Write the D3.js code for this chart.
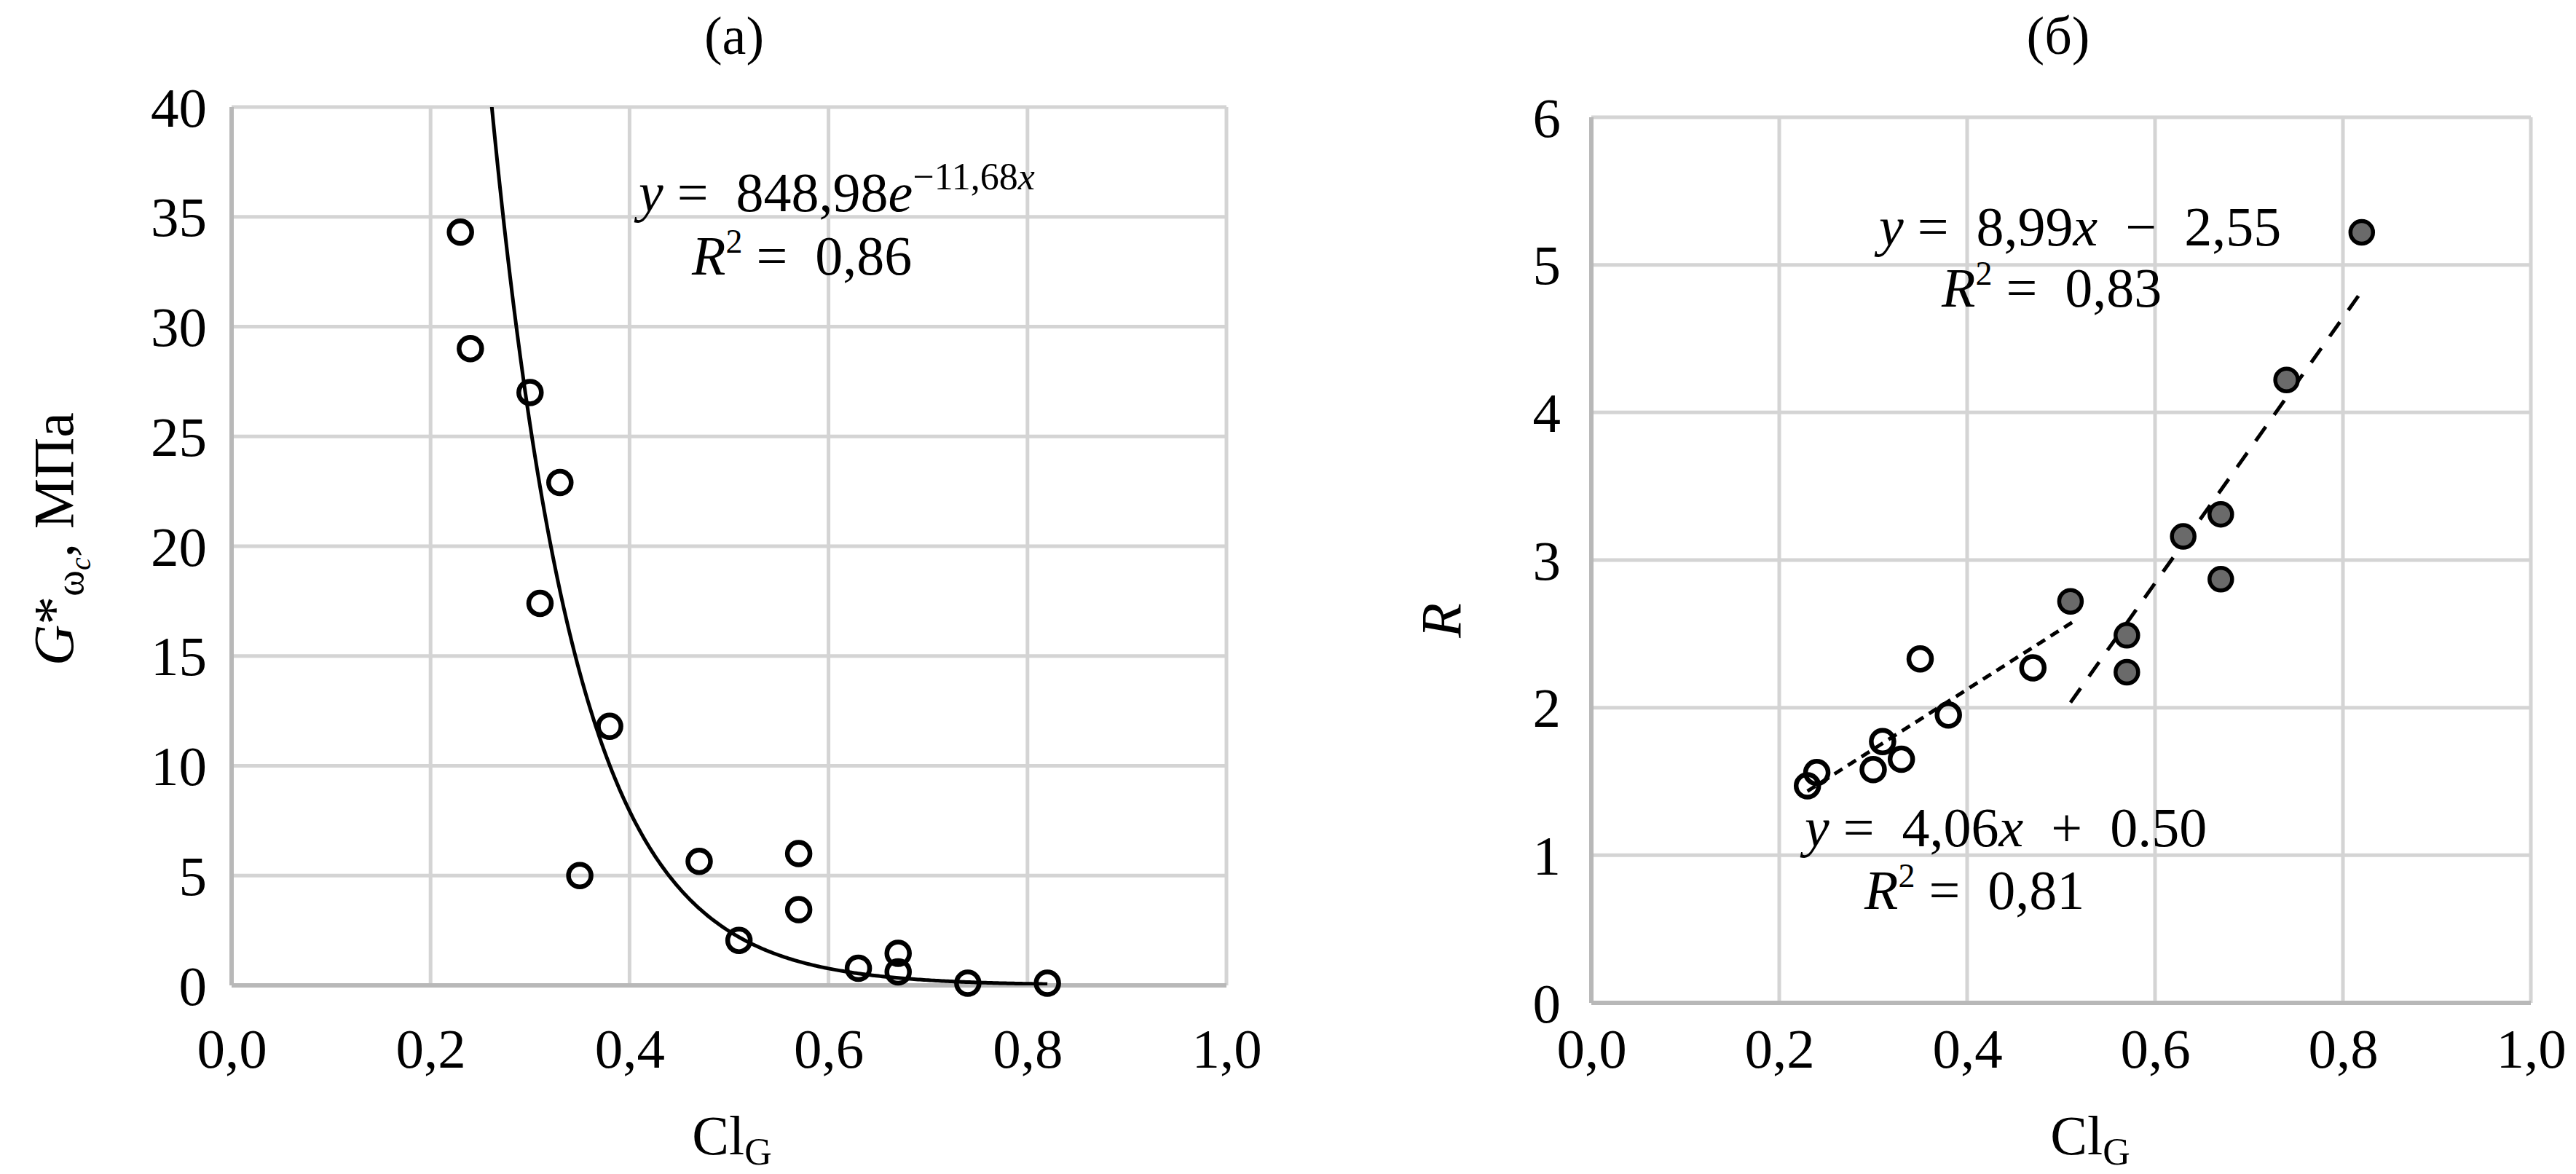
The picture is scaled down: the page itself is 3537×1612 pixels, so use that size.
<!DOCTYPE html>
<html>
<head>
<meta charset="utf-8">
<script src="https://cdn.jsdelivr.net/npm/d3@7"></script>
<style>
  html, body { margin: 0; padding: 0; background: #fff; }
  svg { display: block; }
  text { font-family: "Liberation Serif", "Times New Roman", serif; fill: #000; }
</style>
</head>
<body>
<svg id="chart" width="3537" height="1612"></svg>
<script>
// ---------------- DATA ----------------
const xTickValues = [0, 0.2, 0.4, 0.6, 0.8, 1.0];
const yTicksA = [0, 5, 10, 15, 20, 25, 30, 35, 40];
const yTicksB = [0, 1, 2, 3, 4, 5, 6];

// panel (a): Cl_G vs G*
const clA = [0.23, 0.24, 0.30, 0.31, 0.33, 0.35, 0.38, 0.47, 0.51, 0.57, 0.57, 0.63, 0.67, 0.67, 0.74, 0.82];
const gA  = [34.3, 29.0, 27.0, 17.4, 22.9, 5.0, 11.8, 5.65, 2.05, 6.0, 3.45, 0.78, 1.46, 0.61, 0.1, 0.1];

// panel (b): Cl_G vs R, open and filled series
const clOpen = [0.23, 0.24, 0.30, 0.31, 0.33, 0.35, 0.38, 0.47];
const rOpen  = [1.47, 1.56, 1.58, 1.77, 1.65, 2.33, 1.95, 2.27];
const clFill = [0.51, 0.57, 0.57, 0.63, 0.67, 0.67, 0.74, 0.82];
const rFill  = [2.72, 2.49, 2.24, 3.16, 3.31, 2.87, 4.22, 5.22];

// trendlines (as printed on the chart)
const expFit  = { a: 848.98, b: -11.68, from: 0.23, to: 0.82 };
const linOpen = { k: 4.06, c: 0.50, from: 0.23, to: 0.515 };
const linFill = { k: 8.99, c: -2.55, from: 0.51, to: 0.82 };

// ---------------- DRAW ----------------
const svg = d3.select("#chart");
const fmt = v => d3.format(".1f")(v).replace(".", ",");
const GRID = "#d4d4d4";

function panel(cfg) {
  const g = svg.append("g");
  const x = d3.scaleLinear().domain([0, 1]).range([cfg.left, cfg.right]);
  const y = d3.scaleLinear().domain(cfg.yDomain).range([cfg.bottom, cfg.top]);

  // grid
  g.append("g").selectAll("line.v").data(xTickValues).join("line")
    .attr("x1", d => x(d)).attr("x2", d => x(d))
    .attr("y1", cfg.top).attr("y2", cfg.bottom)
    .attr("stroke", GRID).attr("stroke-width", 5);
  g.append("g").selectAll("line.h").data(cfg.yTicks).join("line")
    .attr("x1", cfg.left).attr("x2", cfg.right)
    .attr("y1", d => y(d)).attr("y2", d => y(d))
    .attr("stroke", GRID).attr("stroke-width", 5);
  // axes lines
  g.append("line").attr("x1", cfg.left).attr("x2", cfg.left).attr("y1", cfg.top).attr("y2", cfg.bottom)
    .attr("stroke", "#b8b8b8").attr("stroke-width", 6);
  g.append("line").attr("x1", cfg.left).attr("x2", cfg.right).attr("y1", cfg.bottom).attr("y2", cfg.bottom)
    .attr("stroke", "#b8b8b8").attr("stroke-width", 6);

  // tick labels
  const xAxis = d3.axisBottom(x).tickValues(xTickValues).tickFormat(fmt).tickSize(0).tickPadding(0);
  const xa = g.append("g").attr("transform", `translate(0,${cfg.xLabelY})`).call(xAxis);
  xa.select(".domain").remove();
  xa.selectAll("text").attr("font-size", 77).attr("dy", 0)
    .style("font-family", "'Liberation Serif', serif").attr("fill", "#000");

  const yAxis = d3.axisLeft(y).tickValues(cfg.yTicks).tickFormat(d3.format("d")).tickSize(0).tickPadding(0);
  const ya = g.append("g").attr("transform", `translate(${cfg.left - cfg.yLabelGap},0)`).call(yAxis);
  ya.select(".domain").remove();
  ya.selectAll("text").attr("font-size", 77).attr("dy", "0.34em")
    .style("font-family", "'Liberation Serif', serif").attr("fill", "#000");

  // clip
  const clipId = "clip" + cfg.id;
  svg.append("defs").append("clipPath").attr("id", clipId)
    .append("rect").attr("x", cfg.left).attr("y", cfg.top)
    .attr("width", cfg.right - cfg.left).attr("height", cfg.bottom - cfg.top);

  // title
  g.append("text").attr("x", cfg.titleX).attr("y", 74).attr("text-anchor", "middle")
    .attr("font-size", 74).text(cfg.title);

  // x label Cl_G
  const xl = g.append("text").attr("x", cfg.xTitleX).attr("y", 1585).attr("text-anchor", "middle")
    .attr("font-size", 76);
  xl.append("tspan").text("Cl");
  xl.append("tspan").attr("font-size", 52).attr("dy", 14).text("G");

  return { g, x, y, clipId };
}

// ---- panel (a)
const A = panel({ id: "a", left: 318, right: 1684, top: 147, bottom: 1353, yDomain: [0, 40], yTicks: yTicksA,
  xLabelY: 1466, yLabelGap: 34, title: "(a)", titleX: 1008, xTitleX: 1005 });

const curve = d3.range(expFit.from, expFit.to + 1e-9, 0.002).map(v => [v, expFit.a * Math.exp(expFit.b * v)]);
A.g.append("path").datum(curve)
  .attr("clip-path", `url(#${A.clipId})`)
  .attr("d", d3.line().x(d => A.x(d[0])).y(d => A.y(d[1])))
  .attr("fill", "none").attr("stroke", "#000").attr("stroke-width", 5);

A.g.append("g").selectAll("circle").data(clA.map((c, i) => [c, gA[i]])).join("circle")
  .attr("cx", d => A.x(d[0])).attr("cy", d => A.y(d[1])).attr("r", 15.5)
  .attr("fill", "none").attr("stroke", "#000").attr("stroke-width", 6.5);

// equation (a)
const eqA = A.g.append("text").attr("x", 877).attr("y", 290).attr("font-size", 76).attr("xml:space", "preserve");
eqA.append("tspan").attr("font-style", "italic").text("y");
eqA.append("tspan").text(" =  848,98");
eqA.append("tspan").attr("font-style", "italic").text("e");
eqA.append("tspan").attr("font-size", 52).attr("dy", -30).text("−11,68");
eqA.append("tspan").attr("font-size", 52).attr("font-style", "italic").text("x");
const r2A = A.g.append("text").attr("x", 950).attr("y", 377).attr("font-size", 76).attr("xml:space", "preserve");
r2A.append("tspan").attr("font-style", "italic").text("R");
r2A.append("tspan").attr("font-size", 46).attr("dy", -30).text("2");
r2A.append("tspan").attr("dy", 30).text(" =  0,86");

// y label (a)
const ylA = A.g.append("text").attr("transform", "translate(100,740) rotate(-90)")
  .attr("text-anchor", "middle").attr("font-size", 78);
ylA.append("tspan").attr("font-style", "italic").text("G");
ylA.append("tspan").text("*");
ylA.append("tspan").attr("font-size", 54).attr("dy", 14).text("ω");
ylA.append("tspan").attr("font-size", 40).attr("font-style", "italic").attr("dy", 10).text("c");
ylA.append("tspan").attr("dy", -24).text(", МПа");

// ---- panel (b)
const B = panel({ id: "b", left: 2185, right: 3475, top: 161, bottom: 1377, yDomain: [0, 6], yTicks: yTicksB,
  xLabelY: 1466, yLabelGap: 42, title: "(б)", titleX: 2826, xTitleX: 2870 });

B.g.append("path").datum([linOpen.from, linOpen.to].map(v => [v, linOpen.k * v + linOpen.c]))
  .attr("d", d3.line().x(d => B.x(d[0])).y(d => B.y(d[1])))
  .attr("fill", "none").attr("stroke", "#000").attr("stroke-width", 5).attr("stroke-dasharray", "13,9");
B.g.append("path").datum([linFill.from, linFill.to].map(v => [v, linFill.k * v + linFill.c]))
  .attr("d", d3.line().x(d => B.x(d[0])).y(d => B.y(d[1])))
  .attr("fill", "none").attr("stroke", "#000").attr("stroke-width", 5).attr("stroke-dasharray", "24,20");

B.g.append("g").selectAll("circle.o").data(clOpen.map((c, i) => [c, rOpen[i]])).join("circle")
  .attr("cx", d => B.x(d[0])).attr("cy", d => B.y(d[1])).attr("r", 15.5)
  .attr("fill", "none").attr("stroke", "#000").attr("stroke-width", 6.5);
B.g.append("g").selectAll("circle.f").data(clFill.map((c, i) => [c, rFill[i]])).join("circle")
  .attr("cx", d => B.x(d[0])).attr("cy", d => B.y(d[1])).attr("r", 15.5)
  .attr("fill", "#6a6a6a").attr("stroke", "#000").attr("stroke-width", 5.5);

function linEq(g, xPos, yPos, parts) {
  const t = g.append("text").attr("x", xPos).attr("y", yPos).attr("font-size", 76).attr("xml:space", "preserve");
  parts.forEach(p => {
    const s = t.append("tspan").text(p.t);
    if (p.i) s.attr("font-style", "italic");
    if (p.sup) s.attr("font-size", 46).attr("dy", -30);
    if (p.down) s.attr("dy", 30);
  });
  return t;
}
linEq(B.g, 2580, 337, [{ t: "y", i: 1 }, { t: " =  8,99" }, { t: "x", i: 1 }, { t: "  −  2,55" }]);
linEq(B.g, 2666, 421, [{ t: "R", i: 1 }, { t: "2", sup: 1 }, { t: " =  0,83", down: 1 }]);
linEq(B.g, 2478, 1162, [{ t: "y", i: 1 }, { t: " =  4,06" }, { t: "x", i: 1 }, { t: "  +  0.50" }]);
linEq(B.g, 2560, 1248, [{ t: "R", i: 1 }, { t: "2", sup: 1 }, { t: " =  0,81", down: 1 }]);

// y label (b)
B.g.append("text").attr("transform", "translate(2005,852) rotate(-90)")
  .attr("text-anchor", "middle").attr("font-size", 78).attr("font-style", "italic").text("R");
</script>
</body>
</html>
